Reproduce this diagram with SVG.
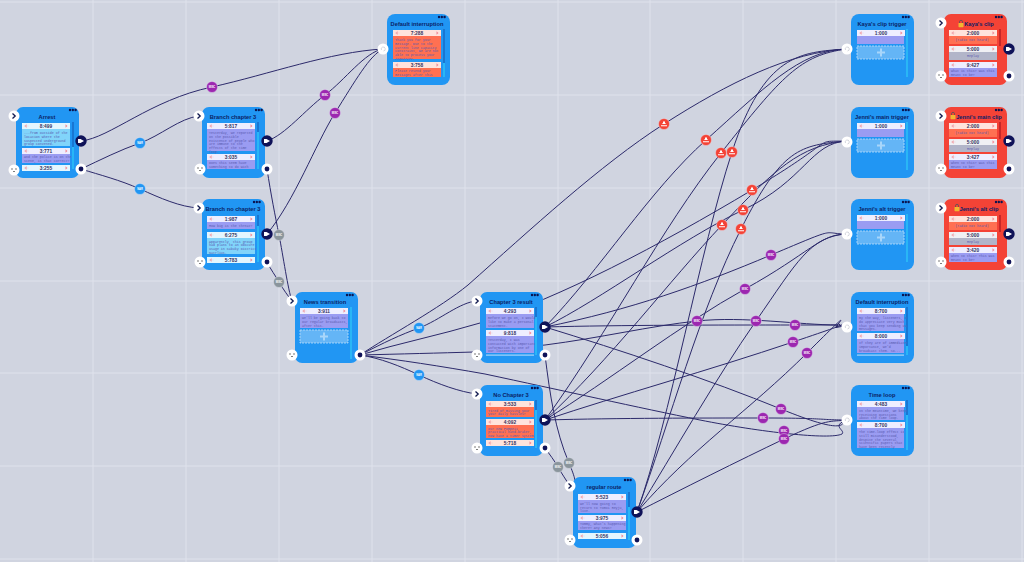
<svg xmlns="http://www.w3.org/2000/svg" xmlns:xlink="http://www.w3.org/1999/xlink" width="1024" height="562" viewBox="0 0 1024 562">
<style>
.bg{fill:#d0d4e0}.gl{stroke:#dfe2ec;stroke-width:1;fill:none}
.e{fill:none;stroke:#2c2a6b;stroke-width:1}
.n{fill:#2196f3}.r{fill:#f44336}
.t{font:bold 5.7px "Liberation Sans",Arial,sans-serif;fill:#0b1f66;text-anchor:middle}
.c{font:bold 4.800px "Liberation Sans",Arial,sans-serif;fill:#34345e;text-anchor:middle}
.b{font:3.300px "Liberation Mono",monospace;fill:#5a5ab0}
.bc{text-anchor:middle}
.p{fill:#9a9cf2}.l{fill:#81d4fa}.s{fill:#ff7052}.g{fill:#b2b5c9}
.hp{fill:#eeeeff}.hl{fill:#e4f6fe}.hs{fill:#ffe3dc}.hg{fill:#f0f0f4}
.dash{fill:#64b5f6;stroke:#bbdefb;stroke-width:.8;stroke-dasharray:2 1}
.sd{fill:#1976d2}.sl{fill:#29b6f6}.sr{fill:#c62828}
.bp{fill:#9c27b0}.bb{fill:#2196f3}.by{fill:#8a959c}.br{fill:#f44336}
.bt{font:bold 2.6px "Liberation Sans",Arial,sans-serif;fill:#fff;text-anchor:middle}
.ring{stroke:#e8e8f2;stroke-opacity:.6;stroke-width:.7}
</style>
<defs>
<g id="hd"><rect width="48" height="6"/><path d="M2.5 3l2-1.6v3.2zM5.2 3h1.3" fill="#f0a0a8" stroke="#f0a0a8" stroke-width=".3"/><path d="M45.5 3l-2-1.7v3.4z" fill="#f08a96"/></g>
<g id="dots" fill="#0b1550"><circle cx="0" cy="0" r="1.2"/><circle cx="2.8" cy="0" r="1.2"/><circle cx="5.6" cy="0" r="1.2"/></g>
<g id="pin"><circle r="5.5" fill="#fff"/><path d="M-1.5-2.5L1.2 0L-1.5 2.5" fill="none" stroke="#111a50" stroke-width="1.3"/></g>
<g id="pout"><circle r="5.7" fill="#0f1258"/><path d="M-3-2h2.5L3 0L-.5 2H-3z" fill="#fff"/></g>
<g id="pdot"><circle r="5.5" fill="#fff"/><circle r="2.4" fill="#0f1258"/></g>
<g id="pbl"><circle r="5.5" fill="#fff"/><path d="M-3-1h2M1-1h2M-1 1.500h2" stroke="#444" stroke-width=".7"/></g>
<g id="ptr"><circle r="5.5" fill="#fff"/><path d="M-1.500 1a2 2 0 1 1 2 1" fill="none" stroke="#b8bcc8" stroke-width=".6"/></g>
<g id="lock"><rect x="-2.500" y="-1" width="5" height="4.2" rx=".6" fill="#f2b632"/><path d="M-1.500-1v-1.200a1.500 1.500 0 0 1 3 0V-1" fill="none" stroke="#555" stroke-width=".8"/></g>
<g id="plus"><rect x="-1" y="-4" width="2" height="8" fill="#a8d6fa"/><rect x="-4" y="-1" width="8" height="2" fill="#a8d6fa"/></g>
<g id="bs"><circle r="5.5" class="ring"/><path d="M-1-2.600h2v1.600l1.200 1h-4.400l1.200-1zM-3 1.200h6v1h-6z" fill="#fff"/></g>
</defs>
<rect class="bg" width="1024" height="562"/>
<g id="grid" class="gl"><path d="M93 0V562M186 0V562M279 0V562M372 0V562M465 0V562M558 0V562M650 0V562M743 0V562M836 0V562M929 0V562M1022 0V562M0 2H1024M0 95H1024M0 188H1024M0 281H1024M0 373H1024M0 466H1024M0 559H1024"/></g>
<g id="connectors">
<path class="e" d="M81 141C110 138 150 100 212 87C270 74 330 52 383 49"/>
<path class="e" d="M81 169C100 160 120 150 140 143S180 118 199 116"/>
<path class="e" d="M81 169C100 175 120 180 140 189S180 207 199 208"/>
<path class="e" d="M267 141C285 135 305 110 325 95S365 52 383 49"/>
<path class="e" d="M267 234C295 200 315 145 335 113S370 55 383 49"/>
<path class="e" d="M267 169C271 195 275 215 279 235S288 290 292 301"/>
<path class="e" d="M267 262C271 270 275 275 279 282S288 296 292 301"/>
<path class="e" d="M360 355C385 342 400 335 419 328C440 320 460 302 477 301"/>
<path class="e" d="M360 355C380 358 400 366 419 375S460 392 477 394"/>
<path class="e" d="M360 355C390 335 440 308 468 285C530 230 600 165 664 124S790 52 847 49"/>
<path class="e" d="M360 355C400 343 440 335 480 323C560 298 660 245 752 190S810 142 847 141"/>
<path class="e" d="M360 355C400 354 440 353 474 352C500 350 520 347 545 345C600 338 650 326 697 321S800 325 838 325"/>
<path class="e" d="M360 355C400 360 440 366 485 374C560 390 640 408 700 420C760 432 830 440 842 434C846 430 830 426 847 420"/>
<path class="e" d="M545 355C550 395 555 430 569 463S568 478 570 486"/>
<path class="e" d="M545 448C550 455 554 460 558 467S566 480 570 486"/>
<path class="e" d="M545 327C600 270 650 190 706 140S800 50 847 49"/>
<path class="e" d="M545 420C610 330 660 230 721 153S800 55 847 49"/>
<path class="e" d="M637 512C670 420 700 250 732 152S800 52 847 49"/>
<path class="e" d="M545 327C600 300 680 240 743 210S810 143 847 141"/>
<path class="e" d="M545 420C610 360 670 280 722 225S800 145 847 141"/>
<path class="e" d="M637 512C670 420 700 310 741 229S800 145 847 141"/>
<path class="e" d="M545 327C630 310 700 285 771 255S820 234 847 234"/>
<path class="e" d="M545 420C610 380 680 325 745 289S820 234 847 234"/>
<path class="e" d="M637 512C675 450 715 380 756 321S810 236 847 234"/>
<path class="e" d="M545 327C620 325 720 325 795 325L838 325"/>
<path class="e" d="M545 420C620 395 710 370 793 342S825 330 838 326"/>
<path class="e" d="M637 512C690 450 750 410 807 353S830 332 838 326"/>
<path class="e" d="M545 327C620 350 710 380 781 409S840 421 847 420"/>
<path class="e" d="M545 420C620 418 700 418 763 418S820 420 847 420"/>
<path class="e" d="M637 512C680 490 740 460 784 439S830 422 847 420"/>
<path class="e" d="M836 327.500L838.500 323.500L841.500 326.500Z"/>
<g id="badges">
<g class="bp"><circle cx="212" cy="87" r="5.5" class="ring"/><circle cx="325" cy="95" r="5.500" class="ring"/><circle cx="335" cy="113" r="5.500" class="ring"/><circle cx="771" cy="255" r="5.500" class="ring"/><circle cx="745" cy="289" r="5.500" class="ring"/><circle cx="697" cy="321" r="5.500" class="ring"/><circle cx="756" cy="321" r="5.500" class="ring"/><circle cx="795" cy="325" r="5.500" class="ring"/><circle cx="793" cy="342" r="5.500" class="ring"/><circle cx="807" cy="353" r="5.500" class="ring"/><circle cx="781" cy="409" r="5.500" class="ring"/><circle cx="763" cy="418" r="5.500" class="ring"/><circle cx="784" cy="431" r="5.500" class="ring"/><circle cx="784" cy="439" r="5.500" class="ring"/></g>
<g class="bt"><text x="212" y="88">MISC</text><text x="325" y="96">MISC</text><text x="335" y="114">MISC</text><text x="771" y="256">MISC</text><text x="745" y="290">MISC</text><text x="697" y="322">MISC</text><text x="756" y="322">MISC</text><text x="795" y="326">MISC</text><text x="793" y="343">MISC</text><text x="807" y="354">MISC</text><text x="781" y="410">MISC</text><text x="763" y="419">MISC</text><text x="784" y="432">MISC</text><text x="784" y="440">MISC</text></g>
<g class="bb"><circle cx="140" cy="143" r="5.500" class="ring"/><circle cx="140" cy="189" r="5.500" class="ring"/><circle cx="419" cy="328" r="5.500" class="ring"/><circle cx="419" cy="375" r="5.500" class="ring"/></g>
<g class="bt"><text x="140" y="144">NAR</text><text x="140" y="190">NAR</text><text x="419" y="329">NAR</text><text x="419" y="376">NAR</text></g>
<g class="by"><circle cx="279" cy="235" r="5.500" class="ring"/><circle cx="279" cy="282" r="5.500" class="ring"/><circle cx="569" cy="463" r="5.500" class="ring"/><circle cx="558" cy="467" r="5.500" class="ring"/></g>
<g class="bt"><text x="279" y="236">MISC</text><text x="279" y="283">MISC</text><text x="569" y="464">MISC</text><text x="558" y="468">MISC</text></g>
<g class="br"><use href="#bs" x="664" y="124"/><use href="#bs" x="706" y="140"/><use href="#bs" x="721" y="153"/><use href="#bs" x="732" y="152"/><use href="#bs" x="752" y="190"/><use href="#bs" x="743" y="210"/><use href="#bs" x="722" y="225"/><use href="#bs" x="741" y="229"/></g>
</g>
</g>

<g id="node-arrest">
<rect class="n" x="16" y="107" width="63" height="71" rx="7"/><text class="t" x="47" y="119">Arrest</text><use href="#dots" x="70" y="110"/>
<rect class="sd" x="72" y="122" width="2" height="25"/><rect class="sl" x="72" y="147" width="2" height="22"/>
<use href="#hd" class="hl" x="22" y="123"/><text class="c" x="46" y="127.700">8:499</text><rect class="l" x="22" y="129" width="48" height="17"/>
<text class="b" x="24" y="134">...from outside of the<tspan x="24" dy="3.800">location where the</tspan><tspan x="24" dy="3.800">suspected underground</tspan><tspan x="24" dy="3.800">group convened.</tspan></text>
<use href="#hd" class="hp" x="22" y="148"/><text class="c" x="46" y="152.700">3:771</text><rect class="p" x="22" y="154" width="48" height="9"/>
<text class="b" x="24" y="158">And the police is on the<tspan x="24" dy="3.800">scene, is that correct?</tspan></text>
<use href="#hd" class="hl" x="22" y="165"/><text class="c" x="46" y="169.700">3:255</text>
<use href="#pin" x="14" y="116"/><use href="#pout" x="81" y="141"/><use href="#pdot" x="81" y="169"/><use href="#pbl" x="14" y="170"/>
</g>

<g id="node-branch-ch3">
<rect class="n" x="202" y="107" width="63" height="71" rx="7"/><text class="t" x="233" y="118.500">Branch chapter 3</text><use href="#dots" x="256" y="110"/>
<rect class="sd" x="257" y="122" width="2" height="10"/><rect class="sl" x="257" y="132" width="2" height="37"/>
<use href="#hd" class="hp" x="207" y="123"/><text class="c" x="231" y="127.700">5:817</text><rect class="p" x="207" y="129" width="48" height="22"/>
<text class="b" x="209" y="134">Yesterday, we reported<tspan x="209" dy="3.800">on the possible</tspan><tspan x="209" dy="3.800">existence of people who</tspan><tspan x="209" dy="3.800">are immune to the</tspan><tspan x="209" dy="3.800">effects of the time</tspan><tspan x="209" dy="3.800">loop.</tspan></text>
<use href="#hd" class="hp" x="207" y="154"/><text class="c" x="231" y="158.700">3:035</text><rect class="p" x="207" y="160" width="48" height="9"/>
<text class="b" x="209" y="164">Does this seem have<tspan x="209" dy="3.800">something to do with</tspan></text>
<use href="#pin" x="199" y="116"/><use href="#pout" x="267" y="141"/><use href="#pdot" x="267" y="169"/><use href="#pbl" x="200" y="169"/>
</g>

<g id="node-branch-no">
<rect class="n" x="202" y="199" width="63" height="71" rx="7"/><text class="t" x="233" y="211">Branch no chapter 3</text><use href="#dots" x="254" y="202"/>
<rect class="sd" x="257" y="215" width="2" height="11"/><rect class="sl" x="257" y="226" width="2" height="36"/>
<use href="#hd" class="hp" x="207" y="216"/><text class="c" x="231" y="220.700">1:987</text><rect class="p" x="207" y="222" width="48" height="7"/>
<text class="b" x="209" y="227">How big is the threat?</text>
<use href="#hd" class="hl" x="207" y="232"/><text class="c" x="231" y="236.700">6:275</text><rect class="l" x="207" y="238" width="48" height="16"/>
<text class="b" x="209" y="242.500">Apparently, this group<tspan x="209" dy="3.800">had plans to an obscure</tspan><tspan x="209" dy="3.800">usage in Kabuky District</tspan><tspan x="209" dy="3.800">Natrlius.</tspan></text>
<use href="#hd" class="hl" x="207" y="257"/><text class="c" x="231" y="261.700">5:783</text>
<use href="#pin" x="199" y="208"/><use href="#pout" x="267" y="234"/><use href="#pdot" x="267" y="262"/><use href="#pbl" x="200" y="262"/>
</g>

<g id="node-default-top">
<rect class="n" x="387" y="14" width="63" height="71" rx="8"/><text class="t" x="417" y="26">Default interruption</text><use href="#dots" x="439" y="17"/>
<rect class="sd" x="443" y="29" width="2" height="34"/><rect class="sl" x="443" y="63" width="2" height="14"/>
<use href="#hd" class="hs" x="393" y="30"/><text class="c" x="417" y="34.700">7:288</text><rect class="s" x="393" y="36" width="48" height="23"/>
<text class="b" x="395" y="41">Thank you for your<tspan x="395" dy="3.800">message. Due to the</tspan><tspan x="395" dy="3.800">current line capacity</tspan><tspan x="395" dy="3.800">constraint, we are not</tspan><tspan x="395" dy="3.800">able to process your</tspan><tspan x="395" dy="3.800">inquiries.</tspan></text>
<use href="#hd" class="hs" x="393" y="62"/><text class="c" x="417" y="66.700">3:758</text><rect class="s" x="393" y="68" width="48" height="9"/>
<text class="b" x="395" y="72">Please resend your<tspan x="395" dy="3.800">messages after this</tspan></text>
<use href="#ptr" x="383" y="49"/>
</g>

<g id="node-news">
<rect class="n" x="295" y="292" width="63" height="71" rx="7"/><text class="t" x="325" y="304">News transition</text><use href="#dots" x="347" y="295"/>
<rect class="sl" x="350" y="307" width="2" height="52"/>
<use href="#hd" class="hp" x="300" y="308"/><text class="c" x="324" y="312.700">3:911</text><rect class="p" x="300" y="314" width="48" height="14"/>
<text class="b" x="302" y="319">We'll be going back to<tspan x="302" dy="3.800">our regular broadcasts,</tspan><tspan x="302" dy="3.800">after this.</tspan></text>
<rect class="dash" x="300" y="330" width="48" height="13"/><use href="#plus" x="324" y="336.500"/>
<use href="#pin" x="292" y="301"/><use href="#pdot" x="360" y="355"/><use href="#pbl" x="292" y="355"/>
</g>

<g id="node-ch3-result">
<rect class="n" x="480" y="292" width="63" height="71" rx="7"/><text class="t" x="511" y="304">Chapter 3 result</text><use href="#dots" x="532" y="295"/>
<rect class="sd" x="535" y="307" width="2" height="10"/><rect class="sl" x="535" y="317" width="2" height="38"/>
<use href="#hd" class="hp" x="486" y="308"/><text class="c" x="510" y="312.700">4:293</text><rect class="p" x="486" y="314" width="48" height="14"/>
<text class="b" x="488" y="319">Before we go on, I would<tspan x="488" dy="3.800">like to make a personal</tspan><tspan x="488" dy="3.800">statement.</tspan></text>
<use href="#hd" class="hp" x="486" y="330"/><text class="c" x="510" y="334.700">9:818</text><rect class="p" x="486" y="336" width="48" height="17"/>
<text class="b" x="488" y="341">Yesterday, I was<tspan x="488" dy="3.800">contacted with important</tspan><tspan x="488" dy="3.800">information by one of</tspan><tspan x="488" dy="3.800">our listeners.</tspan></text>
<rect x="486" y="354.500" width="48" height="1.200" fill="#a8d6fa"/>
<use href="#pin" x="477" y="301"/><use href="#pout" x="545" y="327"/><use href="#pdot" x="545" y="355"/><use href="#pbl" x="477" y="355"/>
</g>

<g id="node-no-ch3">
<rect class="n" x="480" y="385" width="63" height="71" rx="7"/><text class="t" x="511" y="397">No Chapter 3</text><use href="#dots" x="532" y="388"/>
<rect class="sd" x="535" y="400" width="2" height="10"/><rect class="sl" x="535" y="410" width="2" height="38"/>
<use href="#hd" class="hs" x="486" y="401"/><text class="c" x="510" y="405.700">3:533</text><rect class="s" x="486" y="407" width="48" height="10"/>
<text class="b" x="488" y="411.500">Tired of missing your<tspan x="488" dy="3.800">your daily hassles?</tspan></text>
<use href="#hd" class="hs" x="486" y="419"/><text class="c" x="510" y="423.700">4:092</text><rect class="s" x="486" y="425" width="48" height="13"/>
<text class="b" x="488" y="429.500">Our new Pompeii<tspan x="488" dy="3.600">practical hand-braker,</tspan><tspan x="488" dy="3.600">now have a timer system.</tspan></text>
<use href="#hd" class="hs" x="486" y="440"/><text class="c" x="510" y="444.700">5:718</text>
<use href="#pin" x="477" y="394"/><use href="#pout" x="545" y="420"/><use href="#pdot" x="545" y="448"/><use href="#pbl" x="477" y="448"/>
</g>

<g id="node-regular">
<rect class="n" x="573" y="477" width="63" height="71" rx="7"/><text class="t" x="604" y="489">regular route</text><use href="#dots" x="625" y="480"/>
<rect class="sd" x="628" y="492" width="2" height="15"/><rect class="sl" x="628" y="507" width="2" height="33"/>
<use href="#hd" class="hp" x="578" y="494"/><text class="c" x="602" y="498.700">5:523</text><rect class="p" x="578" y="500" width="48" height="13"/>
<text class="b" x="580" y="505">We'll now going to<tspan x="580" dy="3.600">return to Tomoi Reyju,</tspan><tspan x="580" dy="3.600">live.</tspan></text>
<use href="#hd" class="hp" x="578" y="515"/><text class="c" x="602" y="519.700">3:975</text><rect class="p" x="578" y="521" width="48" height="9"/>
<text class="b" x="580" y="525">Tommy, what's happening<tspan x="580" dy="3.800">there? Any news?</tspan></text>
<use href="#hd" class="hl" x="578" y="533"/><text class="c" x="602" y="537.700">5:056</text>
<use href="#pin" x="570" y="486"/><use href="#pout" x="637" y="512"/><use href="#pdot" x="637" y="540"/><use href="#pbl" x="570" y="540"/>
</g>

<g id="node-kaya-trigger">
<rect class="n" x="851" y="14" width="63" height="71" rx="8"/><text class="t" x="882" y="26">Kaya's clip trigger</text><use href="#dots" x="903" y="17"/>
<rect class="sl" x="906" y="29" width="2" height="48"/>
<use href="#hd" class="hp" x="857" y="30"/><text class="c" x="881" y="34.700">1:000</text><rect class="p" x="857" y="36" width="47" height="8"/>
<rect class="dash" x="857" y="46" width="47" height="13"/><use href="#plus" x="881" y="52.500"/>
<use href="#ptr" x="847" y="49"/>
</g>
<g id="node-main-trigger">
<rect class="n" x="851" y="107" width="63" height="71" rx="8"/><text class="t" x="882" y="119">Jenni's main trigger</text><use href="#dots" x="903" y="110"/>
<rect class="sl" x="906" y="122" width="2" height="48"/>
<use href="#hd" class="hp" x="857" y="123"/><text class="c" x="881" y="127.700">1:000</text><rect class="p" x="857" y="129" width="47" height="8"/>
<rect class="dash" x="857" y="139" width="47" height="13"/><use href="#plus" x="881" y="145.500"/>
<use href="#ptr" x="847" y="142"/>
</g>
<g id="node-alt-trigger">
<rect class="n" x="851" y="199" width="63" height="71" rx="8"/><text class="t" x="882" y="211">Jenni's alt trigger</text><use href="#dots" x="903" y="202"/>
<rect class="sl" x="906" y="214" width="2" height="48"/>
<use href="#hd" class="hp" x="857" y="215"/><text class="c" x="881" y="219.700">1:000</text><rect class="p" x="857" y="221" width="47" height="8"/>
<rect class="dash" x="857" y="231" width="47" height="13"/><use href="#plus" x="881" y="237.500"/>
<use href="#ptr" x="847" y="234"/>
</g>

<g id="node-default-2">
<rect class="n" x="851" y="292" width="63" height="71" rx="8"/><text class="t" x="882" y="304">Default interruption</text><use href="#dots" x="903" y="295"/>
<rect class="sd" x="906" y="307" width="2" height="39"/><rect class="sl" x="906" y="346" width="2" height="9"/>
<use href="#hd" class="hp" x="857" y="308"/><text class="c" x="881" y="312.700">8:700</text><rect class="p" x="857" y="314" width="47" height="17"/>
<text class="b" x="859" y="319">By the way, listeners, I<tspan x="859" dy="3.800">do appreciate very much</tspan><tspan x="859" dy="3.800">that you keep sending us</tspan><tspan x="859" dy="3.800">messages.</tspan></text>
<use href="#hd" class="hp" x="857" y="333"/><text class="c" x="881" y="337.700">8:000</text><rect class="p" x="857" y="339" width="47" height="14"/>
<text class="b" x="859" y="344">If they are of immediate<tspan x="859" dy="3.800">importance, we'd</tspan><tspan x="859" dy="3.800">broadcast them. So...</tspan></text>
<rect x="857" y="354.500" width="47" height="1.200" fill="#a8d6fa"/>
<use href="#ptr" x="847" y="327"/>
</g>

<g id="node-time-loop">
<rect class="n" x="851" y="385" width="63" height="71" rx="8"/><text class="t" x="882" y="397">Time loop</text><use href="#dots" x="903" y="388"/>
<rect class="sd" x="906" y="400" width="2" height="15"/><rect class="sl" x="906" y="415" width="2" height="35"/>
<use href="#hd" class="hp" x="857" y="401"/><text class="c" x="881" y="405.700">4:483</text><rect class="p" x="857" y="407" width="47" height="13"/>
<text class="b" x="859" y="412">In the meantime, we keep<tspan x="859" dy="3.600">receiving questions</tspan><tspan x="859" dy="3.600">about the time loop.</tspan></text>
<use href="#hd" class="hp" x="857" y="422"/><text class="c" x="881" y="426.700">8:700</text><rect class="p" x="857" y="428" width="47" height="20"/>
<text class="b" x="859" y="433">The time-loop effect is<tspan x="859" dy="3.800">still misunderstood,</tspan><tspan x="859" dy="3.800">despite the several</tspan><tspan x="859" dy="3.800">scientific papers that</tspan><tspan x="859" dy="3.800">have been recently</tspan></text>
<use href="#ptr" x="847" y="420"/>
</g>

<g id="node-kaya-clip">
<rect class="r" x="944" y="14" width="63" height="71" rx="7"/><use href="#lock" x="961" y="24"/><text class="t" x="979" y="26">Kaya's clip</text><use href="#dots" x="996" y="17"/>
<rect class="sr" x="999" y="29" width="2" height="17"/>
<use href="#hd" class="hs" x="949" y="30"/><text class="c" x="973" y="34.700">2:000</text><rect class="s" x="949" y="36" width="48" height="8"/>
<text class="b bc" x="972" y="41">(radio not heard)</text>
<use href="#hd" class="hg" x="949" y="46"/><text class="c" x="973" y="50.700">5:000</text><rect class="g" x="949" y="52" width="48" height="8"/>
<text class="b bc" x="973" y="57">Replay</text>
<use href="#hd" class="hp" x="949" y="62"/><text class="c" x="973" y="66.700">9:427</text><rect class="p" x="949" y="68" width="48" height="9"/>
<text class="b" x="951" y="72">What is this? Was this<tspan x="951" dy="3.800">meant to be?</tspan></text>
<use href="#pin" x="941" y="23"/><use href="#pout" x="1009" y="49"/><use href="#pdot" x="1009" y="76"/><use href="#pbl" x="941" y="76"/>
</g>
<g id="node-main-clip">
<rect class="r" x="944" y="107" width="63" height="71" rx="7"/><use href="#lock" x="953" y="116"/><text class="t" x="979" y="119">Jenni's main clip</text><use href="#dots" x="996" y="110"/>
<rect class="sr" x="999" y="122" width="2" height="17"/>
<use href="#hd" class="hs" x="949" y="123"/><text class="c" x="973" y="127.700">2:000</text><rect class="s" x="949" y="129" width="48" height="8"/>
<text class="b bc" x="972" y="134">(radio not heard)</text>
<use href="#hd" class="hg" x="949" y="139"/><text class="c" x="973" y="143.700">5:000</text><rect class="g" x="949" y="145" width="48" height="7"/>
<text class="b bc" x="973" y="150">Replay</text>
<use href="#hd" class="hp" x="949" y="154"/><text class="c" x="973" y="158.700">3:427</text><rect class="p" x="949" y="160" width="48" height="9"/>
<text class="b" x="951" y="164">When to this? Was this<tspan x="951" dy="3.800">meant to be?</tspan></text>
<use href="#pin" x="941" y="116"/><use href="#pout" x="1009" y="141"/><use href="#pdot" x="1009" y="169"/><use href="#pbl" x="941" y="169"/>
</g>
<g id="node-alt-clip">
<rect class="r" x="944" y="199" width="63" height="71" rx="7"/><use href="#lock" x="957" y="208"/><text class="t" x="979" y="211">Jenni's alt clip</text><use href="#dots" x="996" y="202"/>
<rect class="sr" x="999" y="215" width="2" height="17"/>
<use href="#hd" class="hs" x="949" y="216"/><text class="c" x="973" y="220.700">2:000</text><rect class="s" x="949" y="222" width="48" height="8"/>
<text class="b bc" x="972" y="227">(radio not heard)</text>
<use href="#hd" class="hg" x="949" y="232"/><text class="c" x="973" y="236.700">5:000</text><rect class="g" x="949" y="238" width="48" height="7"/>
<text class="b bc" x="973" y="243">Replay</text>
<use href="#hd" class="hp" x="949" y="247"/><text class="c" x="973" y="251.700">3:420</text><rect class="p" x="949" y="253" width="48" height="9"/>
<text class="b" x="951" y="257">When to this? This was<tspan x="951" dy="3.800">meant to be?</tspan></text>
<use href="#pin" x="941" y="208"/><use href="#pout" x="1009" y="234"/><use href="#pdot" x="1009" y="262"/><use href="#pbl" x="941" y="262"/>
</g>
</svg>
